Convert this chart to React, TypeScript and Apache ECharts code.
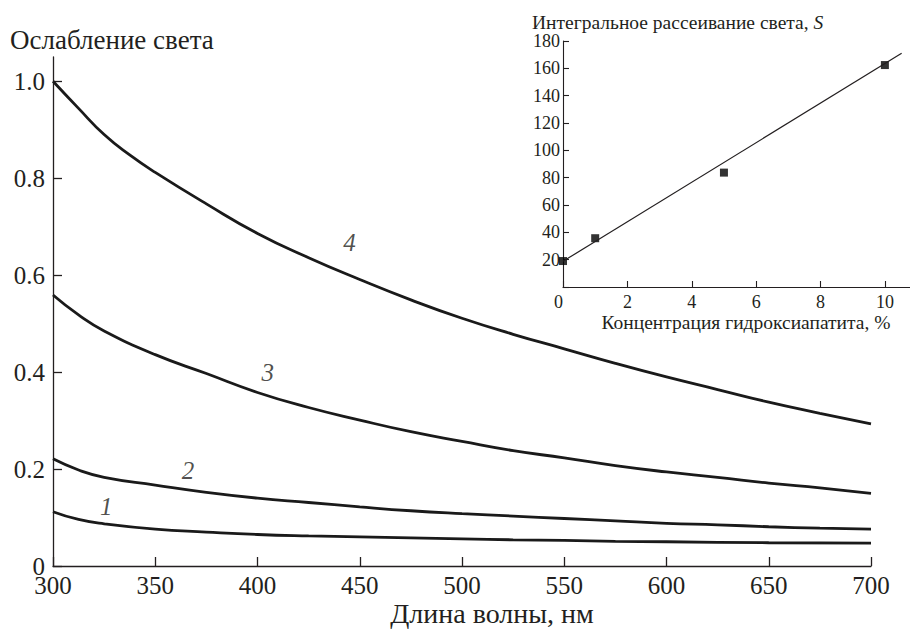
import React, { useEffect, useRef } from "react";
import * as echarts from "echarts";

// ---- Main chart data (wavelength, nm -> light attenuation) ----
const curve1Wl = [300, 312.5, 325, 350, 375, 400, 425, 450, 475, 500, 525, 550, 575, 600, 650, 700];
const curve1Val = [0.112, 0.096, 0.087, 0.076, 0.07, 0.065, 0.062, 0.06, 0.058, 0.056, 0.054, 0.053, 0.051, 0.05, 0.048, 0.047];

const curve2Wl = [300, 312.5, 325, 350, 375, 400, 425, 450, 475, 500, 525, 550, 575, 600, 625, 650, 675, 700];
const curve2Val = [0.221, 0.198, 0.183, 0.167, 0.152, 0.14, 0.131, 0.122, 0.114, 0.108, 0.103, 0.098, 0.093, 0.088, 0.085, 0.081, 0.078, 0.076];

const curve3Wl = [300, 312.5, 325, 350, 375, 400, 425, 450, 475, 500, 525, 550, 575, 600, 625, 650, 675, 700];
const curve3Val = [0.559, 0.518, 0.485, 0.436, 0.397, 0.358, 0.327, 0.301, 0.277, 0.257, 0.238, 0.223, 0.207, 0.194, 0.183, 0.171, 0.161, 0.15];

const curve4Wl = [300, 312.5, 325, 337.5, 350, 375, 400, 425, 450, 475, 500, 525, 550, 575, 600, 625, 650, 675, 700];
const curve4Val = [1.0, 0.944, 0.89, 0.848, 0.812, 0.747, 0.686, 0.636, 0.591, 0.549, 0.511, 0.478, 0.448, 0.418, 0.39, 0.364, 0.338, 0.315, 0.293];

const curveNames = ["1", "2", "3", "4"];
const curveLabelWl = [326, 366, 405, 445];
const curveLabelVal = [0.122, 0.198, 0.4, 0.668];

const mainXTicks = [300, 350, 400, 450, 500, 550, 600, 650, 700];
const mainYTicks = [0, 0.2, 0.4, 0.6, 0.8, 1.0];

// ---- Inset data (hydroxyapatite concentration, % -> integral scattering S) ----
const insetConc = [0, 1, 5, 10];
const insetS = [19, 35.7, 83.7, 162.4];
const fitConc = [0, 10.52];
const fitS = [18.8, 171];

const insetXTicks = [0, 2, 4, 6, 8, 10];
const insetYTicks = [20, 40, 60, 80, 100, 120, 140, 160, 180];

const FONT = "'Liberation Serif', serif";
const INK = "#231f20";

const zip = (a: number[], b: number[]) => a.map((v, i) => [v, b[i]]);

export default function App() {
  const ref = useRef<HTMLDivElement>(null);

  useEffect(() => {
    document.body.style.margin = "0";
    if (!ref.current) return;
    const chart = echarts.init(ref.current, undefined, { renderer: "svg" });

    const axisLineStyle = { color: INK, width: 1.3 };
    const curveStyle = { color: "#1a1a1a", width: 2.8 };

    const option: any = {
      animation: false,
      backgroundColor: "#ffffff",
      textStyle: { fontFamily: FONT, color: INK },
      grid: [
        { left: 53, right: 39, top: 57, bottom: 63, outerBoundsMode: "none", containLabel: false },
        { left: 563, right: 0, top: 41, bottom: 342, outerBoundsMode: "none", containLabel: false },
      ],
      xAxis: [
        {
          type: "value",
          gridIndex: 0,
          min: 300,
          max: 700,
          interval: 50,
          axisLine: { show: true, lineStyle: axisLineStyle },
          axisTick: { show: true, inside: true, length: 9, lineStyle: axisLineStyle, customValues: mainXTicks },
          axisLabel: { fontSize: 25, color: INK, fontFamily: FONT, margin: 10, lineHeight: 18, customValues: mainXTicks },
          splitLine: { show: false },
        },
        {
          type: "value",
          gridIndex: 1,
          min: 0,
          max: 10.78,
          interval: 2,
          axisLine: { show: true, lineStyle: { color: INK, width: 1.1 } },
          axisTick: { show: true, inside: true, length: 6, lineStyle: { color: INK, width: 1.1 }, customValues: insetXTicks },
          axisLabel: {
            fontSize: 18,
            color: INK,
            fontFamily: FONT,
            margin: 8,
            lineHeight: 13,
            alignMinLabel: "right",
            customValues: insetXTicks,
          },
          splitLine: { show: false },
        },
      ],
      yAxis: [
        {
          type: "value",
          gridIndex: 0,
          min: 0,
          max: 1.05,
          interval: 0.2,
          axisLine: { show: true, lineStyle: axisLineStyle },
          axisTick: { show: true, inside: true, length: 9, lineStyle: axisLineStyle, customValues: mainYTicks },
          axisLabel: {
            fontSize: 25,
            color: INK,
            fontFamily: FONT,
            margin: 8,
            lineHeight: 16,
            customValues: mainYTicks,
            formatter: (v: number) => (v === 0 ? "0" : v.toFixed(1)),
          },
          splitLine: { show: false },
        },
        {
          type: "value",
          gridIndex: 1,
          min: 0,
          max: 180,
          interval: 20,
          axisLine: { show: true, lineStyle: { color: INK, width: 1.1 } },
          axisTick: { show: true, inside: true, length: 6, lineStyle: { color: INK, width: 1.1 }, customValues: [0, ...insetYTicks] },
          axisLabel: { fontSize: 18, color: INK, fontFamily: FONT, margin: 3, lineHeight: 13, customValues: insetYTicks },
          splitLine: { show: false },
        },
      ],
      graphic: [
        {
          type: "text",
          x: 10,
          y: 40,
          style: {
            text: "Ослабление света",
            font: `27px ${FONT}`,
            fill: INK,
            textAlign: "left",
            textVerticalAlign: "middle",
            align: "left",
            verticalAlign: "middle",
          },
        },
        {
          type: "text",
          x: 492,
          y: 613,
          style: {
            text: "Длина волны, нм",
            font: `28px ${FONT}`,
            fill: INK,
            textAlign: "center",
            textVerticalAlign: "middle",
            align: "center",
            verticalAlign: "middle",
          },
        },
        {
          type: "text",
          x: 532,
          y: 22,
          style: {
            text: "Интегральное рассеивание света, {i|S}",
            font: `19.5px ${FONT}`,
            fill: INK,
            textAlign: "left",
            textVerticalAlign: "middle",
            align: "left",
            verticalAlign: "middle",
            rich: { i: { fontStyle: "italic", fontSize: 19.5, fontFamily: FONT, fill: INK } },
          },
        },
        {
          type: "text",
          x: 746,
          y: 322,
          style: {
            text: "Концентрация гидроксиапатита, %",
            font: `19.5px ${FONT}`,
            fill: INK,
            textAlign: "center",
            textVerticalAlign: "middle",
            align: "center",
            verticalAlign: "middle",
          },
        },
      ],
      series: [
        ...[
          zip(curve1Wl, curve1Val),
          zip(curve2Wl, curve2Val),
          zip(curve3Wl, curve3Val),
          zip(curve4Wl, curve4Val),
        ].map((d, i) => ({
          type: "line",
          name: curveNames[i],
          xAxisIndex: 0,
          yAxisIndex: 0,
          data: d,
          showSymbol: false,
          symbol: "none",
          smooth: 0.5,
          lineStyle: curveStyle,
          silent: true,
        })),
        {
          type: "scatter",
          xAxisIndex: 0,
          yAxisIndex: 0,
          symbolSize: 1,
          itemStyle: { color: "transparent" },
          data: curveNames.map((n, i) => [curveLabelWl[i], curveLabelVal[i], n]),
          label: {
            show: true,
            position: "inside",
            formatter: (p: any) => p.value[2],
            fontSize: 25,
            fontStyle: "italic",
            fontFamily: FONT,
            color: INK,
          },
          silent: true,
        },
        {
          type: "line",
          xAxisIndex: 1,
          yAxisIndex: 1,
          data: zip(fitConc, fitS),
          showSymbol: false,
          symbol: "none",
          lineStyle: { color: INK, width: 1.2 },
          silent: true,
        },
        {
          type: "scatter",
          xAxisIndex: 1,
          yAxisIndex: 1,
          data: zip(insetConc, insetS),
          symbol: "rect",
          symbolSize: 8,
          itemStyle: { color: "#000000" },
          silent: true,
        },
      ],
    };

    chart.setOption(option);
    return () => chart.dispose();
  }, []);

  return <div ref={ref} style={{ width: 910, height: 629 }} />;
}
